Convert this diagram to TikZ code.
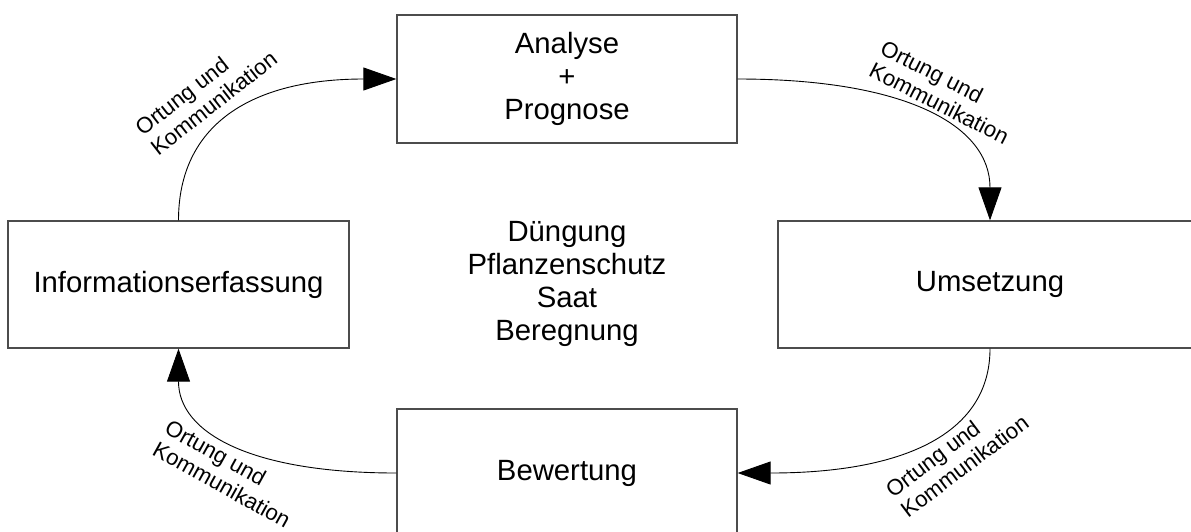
\documentclass[tikz,border=0pt]{standalone}
\usepackage{fontspec}
\setmainfont{Liberation Sans}
\usetikzlibrary{arrows.meta}
\begin{document}
\begin{tikzpicture}[x=1pt,y=-1pt,
  box/.style={draw=black!70,line width=1.3pt,minimum width=340pt,minimum height=128pt,
    inner sep=0pt,align=center,font=\fontsize{29.3}{33.3}\selectfont},
  flow/.style={line width=0.9pt,-{Triangle[length=33pt,width=23pt]}},
  lbl/.style={align=left,font=\fontsize{22.2}{25}\selectfont,inner sep=0pt}]
\clip (0,0) rectangle (1191,531);

% process boxes
\node[box] (ana) at (567,79) {Analyse\\+\\Prognose};
\node[box,minimum width=341pt,minimum height=127pt] (info) at (178.5,284.5) {Informationserfassung};
\node[box,minimum width=424pt,minimum height=127pt] (ums) at (990,284.5) {Umsetzung};
\node[box] (bew) at (567,473) {Bewertung};

% measures in the middle
\node[align=center,inner sep=0pt,font=\fontsize{29.3}{33.3}\selectfont] (mid) at (567,284)
  {Düngung\\Pflanzenschutz\\Saat\\Beregnung};

% cycle connectors
\draw[flow] (info.north) .. controls +(0,-95) and +(-146,0) .. (ana.west);
\draw[flow] (ana.east) .. controls +(168,0) and +(0,-95) .. (ums.north);
\draw[flow] (ums.south) .. controls +(0,84) and +(168,0) .. (bew.east);
\draw[flow] (bew.west) .. controls +(-146,0) and +(0,84) .. (info.south);

% connector labels
\node[lbl,rotate=38] (l1) at (206,93) {Ortung und\\Kommunikation};
\node[lbl,rotate=-27] (l2) at (945,92) {Ortung und\\Kommunikation};
\node[lbl,rotate=-29] (l3) at (228,474) {Ortung und\\Kommunikation};
\node[lbl,rotate=37] (l4) at (957,456) {Ortung und\\Kommunikation};
\end{tikzpicture}
\end{document}
